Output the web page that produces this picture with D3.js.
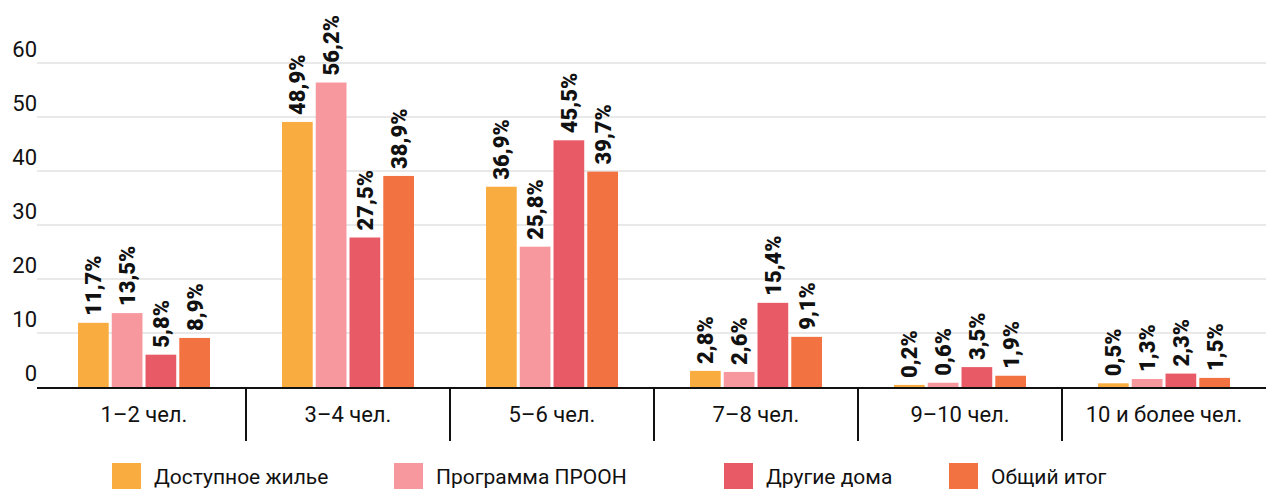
<!DOCTYPE html>
<html>
<head>
<meta charset="utf-8">
<script src="https://cdn.jsdelivr.net/npm/d3@7"></script>
<style>
  html, body { margin: 0; padding: 0; background: #fff; }
  svg { display: block; font-family: Roboto, "Noto Sans", sans-serif; }
</style>
</head>
<body>
<div id="chart"></div>
<script>
const width = 1266;
const height = 489;

// data
const categories = ["1–2 чел.", "3–4 чел.", "5–6 чел.", "7–8 чел.", "9–10 чел.", "10 и более чел."];
const seriesNames = ["Доступное жилье", "Программа ПРООН", "Другие дома", "Общий итог"];
const affordable = [11.7, 48.9, 36.9, 2.8, 0.2, 0.5];
const undp = [13.5, 56.2, 25.8, 2.6, 0.6, 1.3];
const otherHouses = [5.8, 27.5, 45.5, 15.4, 3.5, 2.3];
const total = [8.9, 38.9, 39.7, 9.1, 1.9, 1.5];
const yTicks = [0, 10, 20, 30, 40, 50, 60];
const colors = ["#F9AD41", "#F6989E", "#E75A66", "#F37241"];

const series = [affordable, undp, otherHouses, total];
// legend x positions (layout only)
const legendX = [112, 394, 724, 949];

const svg = d3.select("#chart")
  .append("svg")
  .attr("width", width)
  .attr("height", height);

const x0 = d3.scaleBand()
  .domain(categories)
  .range([42, 1266]);

const x1 = d3.scaleBand()
  .domain(d3.range(series.length))
  .range([36, 168])
  .paddingInner(0.09);

const y = d3.scaleLinear()
  .domain([0, 60])
  .range([387, 63]);

//gridlines
svg.append("g")
  .selectAll("line")
  .data(yTicks.filter(d => d > 0))
  .enter()
  .append("line")
  .attr("x1", 37)
  .attr("x2", width)
  .attr("y1", d => y(d))
  .attr("y2", d => y(d))
  .style("stroke", "#e2e2e2")
  .style("stroke-width", 1.5);

//y labels
svg.append("g")
  .selectAll("text")
  .data(yTicks)
  .enter()
  .append("text")
  .attr("x", 37)
  .attr("y", d => y(d) - 6)
  .style("text-anchor", "end")
  .style("font-size", "22px")
  .style("fill", "#111")
  .text(d => d);

//bars
const groups = svg.append("g")
  .selectAll("g")
  .data(categories)
  .enter()
  .append("g")
  .attr("transform", d => "translate(" + x0(d) + ",0)");

groups.selectAll("rect")
  .data((c, i) => series.map((s, k) => ({ k: k, v: s[i] })))
  .enter()
  .append("rect")
  .attr("x", d => x1(d.k))
  .attr("width", x1.bandwidth())
  .attr("y", d => y(d.v) - 1)
  .attr("height", d => y(0) - y(d.v) + 1)
  .style("fill", d => colors[d.k]);

groups.selectAll("text")
  .data((c, i) => series.map((s, k) => ({ k: k, v: s[i] })))
  .enter()
  .append("text")
  .attr("transform", d => "translate(" + (x1(d.k) + x1.bandwidth() / 2) + "," + (y(d.v) - 8) + ") rotate(-90)")
  .attr("dy", "0.36em")
  .style("font-size", "22px")
  .style("font-weight", 900)
  .style("fill", "#111")
  .text(d => d3.format(".1f")(d.v).replace(".", ",") + "%");

//axis line
svg.append("line")
  .attr("x1", 37)
  .attr("x2", width)
  .attr("y1", y(0) + 1)
  .attr("y2", y(0) + 1)
  .style("stroke", "#111")
  .style("stroke-width", 2);

//separators
svg.append("g")
  .selectAll("line")
  .data(categories.slice(1))
  .enter()
  .append("line")
  .attr("x1", d => x0(d))
  .attr("x2", d => x0(d))
  .attr("y1", y(0))
  .attr("y2", 441)
  .style("stroke", "#111")
  .style("stroke-width", 2);

//category labels
svg.append("g")
  .selectAll("text")
  .data(categories)
  .enter()
  .append("text")
  .attr("x", d => x0(d) + x0.bandwidth() / 2)
  .attr("y", 422)
  .style("text-anchor", "middle")
  .style("font-size", "22px")
  .style("fill", "#111")
  .text(d => d);

//legend
const legend = svg.append("g")
  .selectAll("g")
  .data(seriesNames)
  .enter()
  .append("g")
  .attr("transform", (d, i) => "translate(" + legendX[i] + ",463)");

legend.append("rect")
  .attr("width", 29)
  .attr("height", 28)
  .style("fill", (d, i) => colors[i]);

legend.append("text")
  .attr("x", 42)
  .attr("y", 21)
  .style("font-size", "21px")
  .style("fill", "#111")
  .text(d => d);
</script>
</body>
</html>
